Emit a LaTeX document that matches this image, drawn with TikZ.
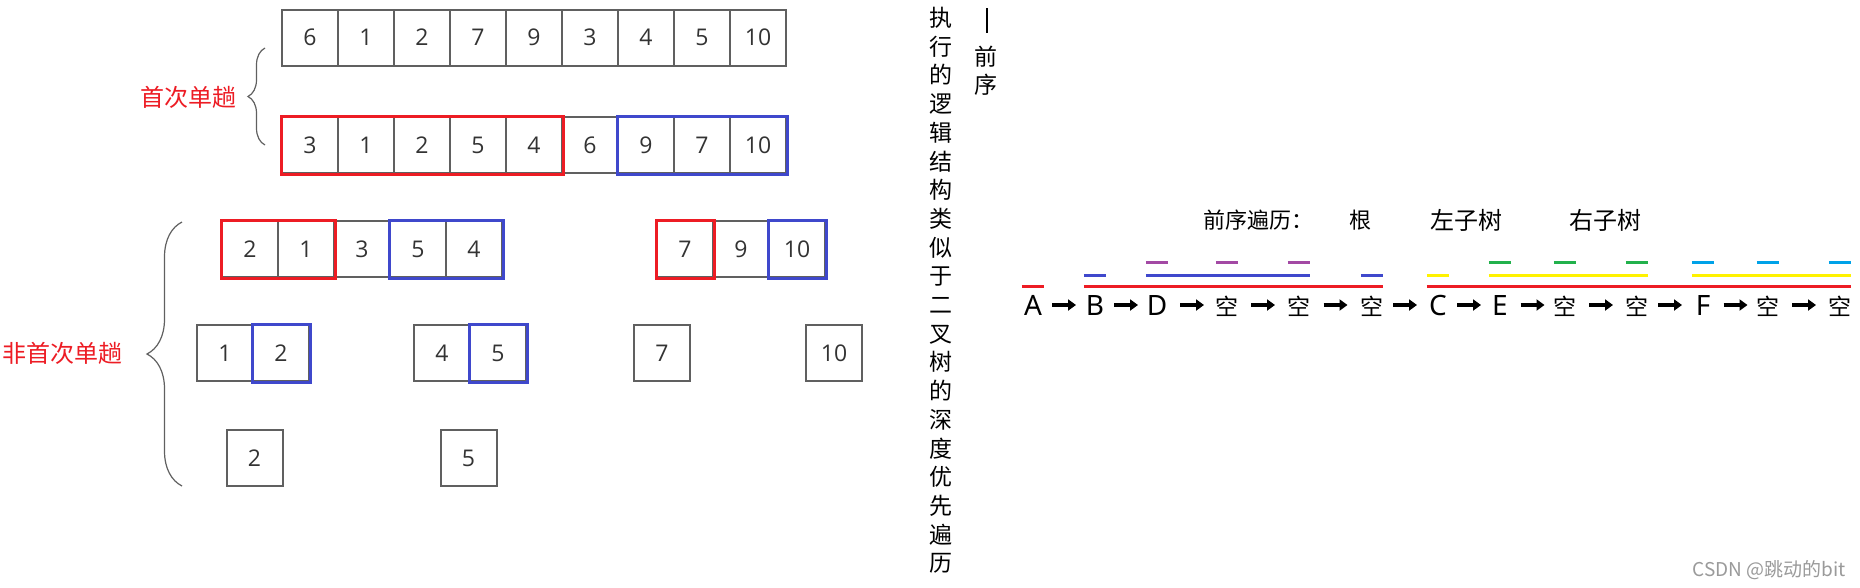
\documentclass[tikz,border=0pt]{standalone}
\usepackage{fontspec}
\setmainfont{Noto Sans}
\newfontfamily\cjk{Noto Sans CJK SC}
\newfontfamily\digitfont{Open Sans}
\usetikzlibrary{decorations.pathreplacing,arrows.meta,calc}
\definecolor{redc}{HTML}{ED1C24}
\definecolor{bluec}{HTML}{3F48CC}
\definecolor{boxg}{HTML}{606060}
\definecolor{purplec}{HTML}{A349A4}
\definecolor{greenc}{HTML}{22B14C}
\definecolor{yellowc}{HTML}{FFF200}
\definecolor{cyanc}{HTML}{00A2E8}
\definecolor{wmgray}{HTML}{9A9A9A}
\newcommand\ovl[4]{\draw[line width=3pt,#1] ([yshift=#2pt]#3.north west) -- ([yshift=#2pt]#4.north east);}
\newcommand\arrbetween[2]{\draw[arr] ($(#1.center)!0.5!(#2.center)+(-12,0)$) -- ($(#1.center)!0.5!(#2.center)+(12,0)$);}
\begin{document}
\begin{tikzpicture}[x=1pt,y=-1pt,
  cell/.style={draw=boxg,line width=2pt,minimum width=56pt,minimum height=56pt,inner sep=0pt,
    font=\digitfont\fontsize{23}{23}\selectfont,text=black!80},
  redframe/.style={draw=redc,line width=3pt},
  blueframe/.style={draw=bluec,line width=3pt},
  bracest/.style={draw=boxg,line width=1.2pt,decorate},
  redlab/.style={font=\cjk\fontsize{24}{24}\selectfont,text=redc,inner sep=0pt},
  vtext/.style={font=\cjk\fontsize{23}{28.7}\selectfont,align=center,inner sep=0pt},
  lt/.style={inner sep=0pt,minimum width=22pt,text height=20pt,text depth=0pt,anchor=base,
    font=\fontsize{28}{28}\selectfont},
  emp/.style={lt,inner xsep=-0.5pt,font=\cjk\fontsize{23}{23}\selectfont},
  arr/.style={line width=3.5pt,-{Triangle[length=8pt,width=11pt]}},
  ttl/.style={font=\cjk\fontsize{22}{22}\selectfont,inner sep=0pt}
]
\fill[white] (0,0) rectangle (1860,587);
\useasboundingbox (0,0) rectangle (1860,587);

% ---- left part: quick sort rows ----
\foreach \v [count=\i] in {6,1,2,7,9,3,4,5,10}
  \node[cell] (a\i) at (254+56*\i,37.5) {\v};
\foreach \v [count=\i] in {3,1,2,5,4,6,9,7,10}
  \node[cell] (b\i) at (254+56*\i,145) {\v};
\draw[redframe] (b1.north west) rectangle (b5.south east);
\draw[blueframe] (b7.north west) rectangle (b9.south east);

\foreach \v [count=\i] in {2,1,3,5,4}
  \node[cell] (c\i) at (194+56*\i,249) {\v};
\foreach \v [count=\i] in {7,9,10}
  \node[cell] (d\i) at (629+56*\i,249) {\v};
\draw[redframe] (c1.north west) rectangle (c2.south east);
\draw[blueframe] (c4.north west) rectangle (c5.south east);
\draw[redframe] (d1.north west) rectangle (d1.south east);
\draw[blueframe] (d3.north west) rectangle (d3.south east);

\node[cell] (e1) at (225,353) {1};
\node[cell] (e2) at (281,353) {2};
\node[cell] (f1) at (442,353) {4};
\node[cell] (f2) at (498,353) {5};
\node[cell] (g1) at (662,353) {7};
\node[cell] (h1) at (834,353) {10};
\draw[blueframe] (e2.north west) rectangle (e2.south east);
\draw[blueframe] (f2.north west) rectangle (f2.south east);

\node[cell] (k1) at (254.5,458) {2};
\node[cell] (m1) at (468.5,458) {5};

% braces and labels
\draw[bracest,decoration={brace,amplitude=17pt}] (265,145) -- (265,48);
\draw[bracest,decoration={brace,amplitude=35pt}] (182,486) -- (182,222);
\node[redlab,anchor=east] (lab1) at (237,97) {首次单趟};
\node[redlab,anchor=west] (lab2) at (2,353) {非首次单趟};

% ---- vertical text ----
\node[vtext,anchor=north] (vt) at (941,7)
  {执\\行\\的\\逻\\辑\\结\\构\\类\\似\\于\\二\\叉\\树\\的\\深\\度\\优\\先\\遍\\历};
\draw[line width=1.8pt] (987,8) -- (987,33);
\node[vtext,anchor=north,font=\cjk\fontsize{23}{28}\selectfont] (qx) at (986,46) {前\\序};

% ---- right part: preorder sequence ----
\node[ttl,anchor=west] (t1) at (1203,220) {前序遍历：};
\node[ttl] (t2) at (1360,220) {根};
\node[ttl,font=\cjk\fontsize{24}{24}\selectfont] (t3) at (1466,220) {左子树};
\node[ttl,font=\cjk\fontsize{24}{24}\selectfont] (t4) at (1605,220) {右子树};

\node[lt] (nA) at (1033,315) {A};
\node[lt] (nB) at (1095,315) {B};
\node[lt] (nD) at (1157,315) {D};
\node[emp] (s1) at (1227,315) {空};
\node[emp] (s2) at (1299,315) {空};
\node[emp] (s3) at (1372,315) {空};
\node[lt] (nC) at (1438,315) {C};
\node[lt] (nE) at (1500,315) {E};
\node[emp] (s4) at (1565,315) {空};
\node[emp] (s5) at (1637,315) {空};
\node[lt] (nF) at (1703,315) {F};
\node[emp] (s6) at (1768,315) {空};
\node[emp] (s7) at (1840,315) {空};

\arrbetween{nA}{nB}
\arrbetween{nB}{nD}
\arrbetween{nD}{s1}
\arrbetween{s1}{s2}
\arrbetween{s2}{s3}
\arrbetween{s3}{nC}
\arrbetween{nC}{nE}
\arrbetween{nE}{s4}
\arrbetween{s4}{s5}
\arrbetween{s5}{nF}
\arrbetween{nF}{s6}
\arrbetween{s6}{s7}

\ovl{redc}{8}{nA}{nA}
\ovl{redc}{8}{nB}{s3}
\ovl{redc}{8}{nC}{s7}
\ovl{bluec}{19}{nB}{nB}
\ovl{bluec}{19}{nD}{s2}
\ovl{bluec}{19}{s3}{s3}
\ovl{purplec}{32}{nD}{nD}
\ovl{purplec}{32}{s1}{s1}
\ovl{purplec}{32}{s2}{s2}
\ovl{yellowc}{19}{nC}{nC}
\ovl{yellowc}{19}{nE}{s5}
\ovl{yellowc}{19}{nF}{s7}
\ovl{greenc}{32}{nE}{nE}
\ovl{greenc}{32}{s4}{s4}
\ovl{greenc}{32}{s5}{s5}
\ovl{cyanc}{32}{nF}{nF}
\ovl{cyanc}{32}{s6}{s6}
\ovl{cyanc}{32}{s7}{s7}

\node[anchor=east,text=wmgray,font=\cjk\fontsize{19}{19}\selectfont,inner sep=0pt] (wm) at (1846,570) {CSDN @跳动的bit};
\end{tikzpicture}
\end{document}
